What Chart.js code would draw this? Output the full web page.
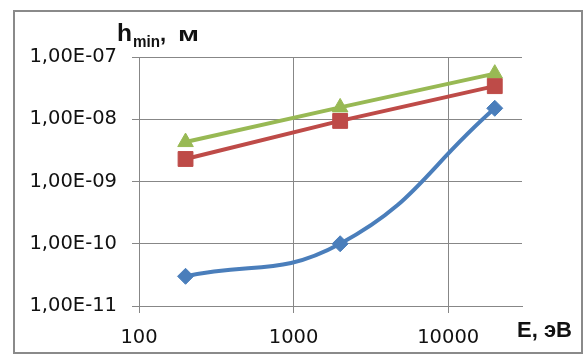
<!DOCTYPE html>
<html>
<head>
<meta charset="utf-8">
<script src="https://cdn.jsdelivr.net/npm/chart.js@4.4.0/dist/chart.umd.min.js"></script>
<style>
    html, body { margin: 0; padding: 0; background: #ffffff; }
    canvas { display: block; }
</style>
</head>
<body>
<canvas id="chart" width="586" height="361"></canvas>
<script>
// Energy values, eV
const energies = [200, 2000, 20000];

// h_min, m for each curve
const seriesBlue = [3.0e-11, 1.0e-10, 1.5e-8];
const seriesRed = [2.3e-9, 9.4e-9, 3.4e-8];
const seriesGreen = [4.3e-9, 1.55e-8, 5.4e-8];

// Axis ticks
const xTicks = [100, 1000, 10000];
const yTicks = [1e-11, 1e-10, 1e-9, 1e-8, 1e-7];

const TICK_FONT = '"DejaVu Sans", sans-serif';
const TITLE_FONT = '"Liberation Sans", Arial, sans-serif';
const GRID = '#878787';

// 1e-8 -> "1,00E-08"
function formatSci(value) {
    const exp = Math.round(Math.log10(value));
    const mant = value / Math.pow(10, exp);
    const sign = exp < 0 ? '-' : '+';
    const e = String(Math.abs(exp)).padStart(2, '0');
    return mant.toFixed(2).replace('.', ',') + 'E' + sign + e;
}

function toPoints(values) {
    return energies.map((x, i) => ({ x: x, y: values[i] }));
}

// draw text squeezed/stretched to a given width
function fillWide(ctx, text, x, y, width) {
    const w = ctx.measureText(text).width;
    ctx.save();
    ctx.translate(x, y);
    ctx.scale(width / w, 1);
    ctx.fillText(text, 0, 0);
    ctx.restore();
}

// Outer frame and axis titles
const decorPlugin = {
    id: 'decor',
    afterDraw(chart) {
        const ctx = chart.ctx;
        ctx.save();
        ctx.strokeStyle = '#8a8a8a';
        ctx.lineWidth = 2;
        ctx.strokeRect(14, 11, 568, 342);

        ctx.fillStyle = '#111111';
        ctx.textBaseline = 'alphabetic';
        ctx.textAlign = 'left';
        ctx.font = 'bold 24px ' + TITLE_FONT;
        fillWide(ctx, 'h', 117, 41, 15);
        ctx.font = 'bold 17px ' + TITLE_FONT;
        fillWide(ctx, 'min', 133, 47, 27);
        ctx.font = 'bold 22px ' + TITLE_FONT;
        ctx.fillText(',', 160, 41);
        ctx.font = 'bold 20px ' + TITLE_FONT;
        fillWide(ctx, 'м', 178, 41, 21);

        ctx.font = 'bold 22px ' + TITLE_FONT;
        ctx.textAlign = 'right';
        ctx.fillText('E, эВ', 572, 337);
        ctx.restore();
    }
};

const ctx = document.getElementById('chart').getContext('2d');
new Chart(ctx, {
    type: 'line',
    data: {
        datasets: [
            {
                data: toPoints(seriesBlue),
                borderColor: '#4a7ebb',
                backgroundColor: '#4a7ebb',
                borderWidth: 4,
                tension: 0.45,
                pointStyle: 'rectRot',
                pointRadius: 8,
                pointBorderWidth: 1
            },
            {
                data: toPoints(seriesRed),
                borderColor: '#be4b48',
                backgroundColor: '#be4b48',
                borderWidth: 4,
                tension: 0,
                pointStyle: 'rect',
                pointRadius: 10.5,
                pointBorderWidth: 1
            },
            {
                data: toPoints(seriesGreen),
                borderColor: '#98b954',
                backgroundColor: '#98b954',
                borderWidth: 4,
                tension: 0,
                pointStyle: 'triangle',
                pointRadius: 9,
                pointBorderWidth: 1
            }
        ]
    },
    options: {
        responsive: false,
        animation: false,
        clip: false,
        layout: {
            padding: { top: 57, right: 64, bottom: 0, left: 0 }
        },
        plugins: {
            legend: { display: false },
            title: { display: false },
            tooltip: { enabled: false }
        },
        scales: {
            x: {
                type: 'logarithmic',
                min: 100,
                max: 30000,
                afterBuildTicks(scale) {
                    scale.ticks = xTicks.map(v => ({ value: v }));
                },
                afterFit(scale) {
                    scale.height = 55;
                },
                grid: { color: GRID, lineWidth: 1, tickLength: 7, drawTicks: true },
                border: { color: GRID, width: 1 },
                ticks: {
                    color: '#111111',
                    font: { family: TICK_FONT, size: 19.5 },
                    padding: 13,
                    maxRotation: 0,
                    autoSkip: false,
                    callback: v => String(v)
                }
            },
            y: {
                type: 'logarithmic',
                min: 1e-11,
                max: 1e-7,
                afterBuildTicks(scale) {
                    scale.ticks = yTicks.map(v => ({ value: v }));
                },
                afterFit(scale) {
                    scale.width = 139;
                },
                grid: { color: GRID, lineWidth: 1, tickLength: 7, drawTicks: true },
                border: { color: GRID, width: 1 },
                ticks: {
                    color: '#111111',
                    font: { family: TICK_FONT, size: 19.5 },
                    padding: 15,
                    autoSkip: false,
                    callback: v => formatSci(v)
                }
            }
        }
    },
    plugins: [decorPlugin]
});
</script>
</body>
</html>
